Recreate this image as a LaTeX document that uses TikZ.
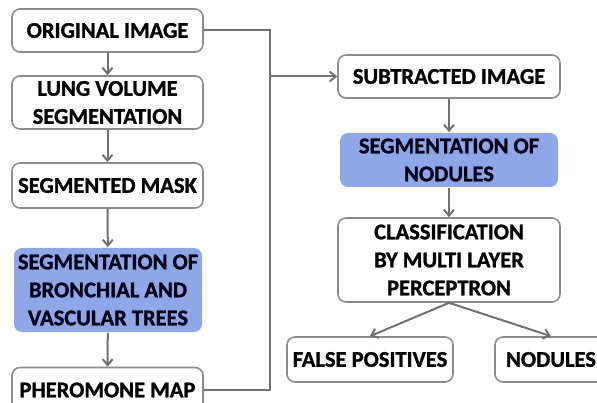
\documentclass[tikz,border=0pt]{standalone}
\usepackage{fontspec}
\setmainfont{Carlito}[BoldFeatures={FakeBold=1.2}]
\usetikzlibrary{arrows.meta}

\definecolor{boxgray}{RGB}{140,140,140}
\definecolor{linegray}{RGB}{112,112,112}
\definecolor{segblue}{RGB}{143,167,230}

\tikzset{
	stage/.style={draw=boxgray, line width=1.6pt, rounded corners=8pt, fill=white,
		align=center, inner sep=0pt, font=\fontsize{22.5}{28}\selectfont\bfseries},
	segstage/.style={stage, draw=none, fill=segblue, text=black!90!blue},
	flow/.style={draw=linegray, line width=2pt, -{Straight Barb[length=6pt,width=10pt]}},
	link/.style={draw=linegray, line width=2pt}
}

\begin{document}
\begin{tikzpicture}[x=1pt,y=-1pt]
\useasboundingbox (0,0) rectangle (597,403);
\clip (0,0) rectangle (597,403);

%left column
\node[stage, minimum width=191pt, minimum height=43pt] (orig) at (107.5,30.5) {ORIGINAL IMAGE};
\node[stage, minimum width=191pt, minimum height=53pt] (lung) at (107.5,102.5) {LUNG VOLUME\\SEGMENTATION};
\node[stage, minimum width=191pt, minimum height=45pt] (mask) at (107.5,185.5) {SEGMENTED MASK};
\node[segstage, minimum width=188pt, minimum height=84pt] (bronch) at (108,290) {SEGMENTATION OF\\BRONCHIAL AND\\VASCULAR TREES};
\node[stage, minimum width=191pt, minimum height=45pt] (phero) at (107.5,390) {PHEROMONE MAP};

%right column
\node[stage, minimum width=222pt, minimum height=43pt] (sub) at (449,76.5) {SUBTRACTED IMAGE};
\node[segstage, minimum width=218pt, minimum height=54pt] (segnod) at (449,160) {SEGMENTATION OF\\NODULES};
\node[stage, minimum width=222pt, minimum height=84pt] (classif) at (449,260) {CLASSIFICATION\\BY MULTI LAYER\\PERCEPTRON};
\node[stage, minimum width=166pt, minimum height=45pt] (falsepos) at (370,359.5) {FALSE POSITIVES};
\node[stage, minimum width=112pt, minimum height=45pt] (nodules) at (551,359.5) {NODULES};

%junction of the two feeds
\coordinate (merge) at (270,76.5);

%vertical flow
\draw[flow] (orig) -- (lung);
\draw[flow] (lung) -- (mask);
\draw[flow] (mask) -- (bronch);
\draw[flow] (bronch) -- (phero);
\draw[flow] (sub) -- (segnod);
\draw[flow] (segnod) -- (classif);

%feeds into subtraction
\draw[link] (orig.east) -| (merge) |- (phero.east);
\draw[flow] (merge) -- (sub.west);

%outcomes
\draw[flow] (classif.south) -- (falsepos.north);
\draw[flow] (classif.south) -- (nodules.north);
\end{tikzpicture}
\end{document}
